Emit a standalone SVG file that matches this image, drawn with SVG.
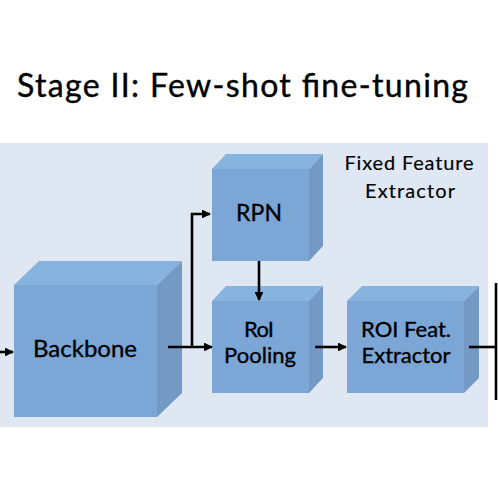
<svg xmlns="http://www.w3.org/2000/svg" width="498" height="500" viewBox="0 0 498 500">
<style>
.front{fill:#7ba6d6}
.top{fill:#86b4de}
.side{fill:#7499c5}
.lbl{font-family:Lato,"Open Sans","DejaVu Sans",sans-serif;fill:#000;stroke:#000;stroke-width:0.35;text-anchor:middle}
.thin{stroke-width:0.15}
.conn{stroke:#000;stroke-width:2.6;fill:none}
</style>
<defs>
<marker id="ah" viewBox="0 0 10 10" refX="9" refY="5" markerWidth="3.4" markerHeight="3.4" orient="auto" markerUnits="strokeWidth">
<path d="M0,0 L10,5 L0,10 z" fill="#000"/>
</marker>
</defs>
<rect width="498" height="500" fill="#fff"/>
<text x="17" y="97" font-family="Lato,'Open Sans',sans-serif" font-size="32" fill="#000" stroke="#000" stroke-width="0.4" textLength="451" lengthAdjust="spacing">Stage II: Few-shot fine-tuning</text>
<rect id="panel" x="0" y="143" width="488" height="284" fill="#dfe7f2"/>
<g id="fixed-label">
<text class="lbl thin" x="409" y="170" font-size="20" textLength="129" lengthAdjust="spacing">Fixed Feature</text>
<text class="lbl thin" x="410" y="198" font-size="20" textLength="90" lengthAdjust="spacing">Extractor</text>
</g>
<g id="backbone">
<polygon class="top" points="14,285 39,261 182,261 157,285"/>
<polygon class="side" points="157,285 182,261 182,393 157,417"/>
<rect class="front" x="14" y="285" width="143" height="132"/>
<text class="lbl" x="85" y="357" font-size="24" textLength="104" lengthAdjust="spacing">Backbone</text>
</g>
<g id="rpn">
<polygon class="top" points="212,169 226,154 323,154 309,169"/>
<polygon class="side" points="309,169 323,154 323,246 309,261"/>
<rect class="front" x="212" y="169" width="97" height="92"/>
<text class="lbl" x="259" y="221" font-size="23" textLength="46" lengthAdjust="spacing">RPN</text>
</g>
<g id="roi-pooling">
<polygon class="top" points="212,301 226,286 323,286 309,301"/>
<polygon class="side" points="309,301 323,286 323,378 309,393"/>
<rect class="front" x="212" y="301" width="97" height="92"/>
<text class="lbl" x="259" y="337" font-size="22" textLength="30" lengthAdjust="spacing">RoI</text>
<text class="lbl" x="260" y="363" font-size="22" textLength="72" lengthAdjust="spacing">Pooling</text>
</g>
<g id="roi-feat">
<polygon class="top" points="347,301 362,286 479,286 464,301"/>
<polygon class="side" points="464,301 479,286 479,378 464,393"/>
<rect class="front" x="347" y="301" width="117" height="92"/>
<text class="lbl" x="406" y="337" font-size="22" textLength="90" lengthAdjust="spacing">ROI Feat.</text>
<text class="lbl" x="406" y="363" font-size="22" textLength="89" lengthAdjust="spacing">Extractor</text>
</g>
<g id="connectors">
<line class="conn" x1="0" y1="352" x2="13" y2="352" marker-end="url(#ah)"/>
<line class="conn" x1="168" y1="347" x2="212" y2="347" marker-end="url(#ah)"/>
<polyline class="conn" points="192,347 192,214 210,214" marker-end="url(#ah)"/>
<line class="conn" x1="259" y1="261" x2="259" y2="300" marker-end="url(#ah)"/>
<line class="conn" x1="315" y1="347" x2="346" y2="347" marker-end="url(#ah)"/>
<line class="conn" x1="469" y1="347" x2="496" y2="347"/>
<line class="conn" x1="496" y1="283" x2="496" y2="400" stroke-width="3"/>
</g>
</svg>
